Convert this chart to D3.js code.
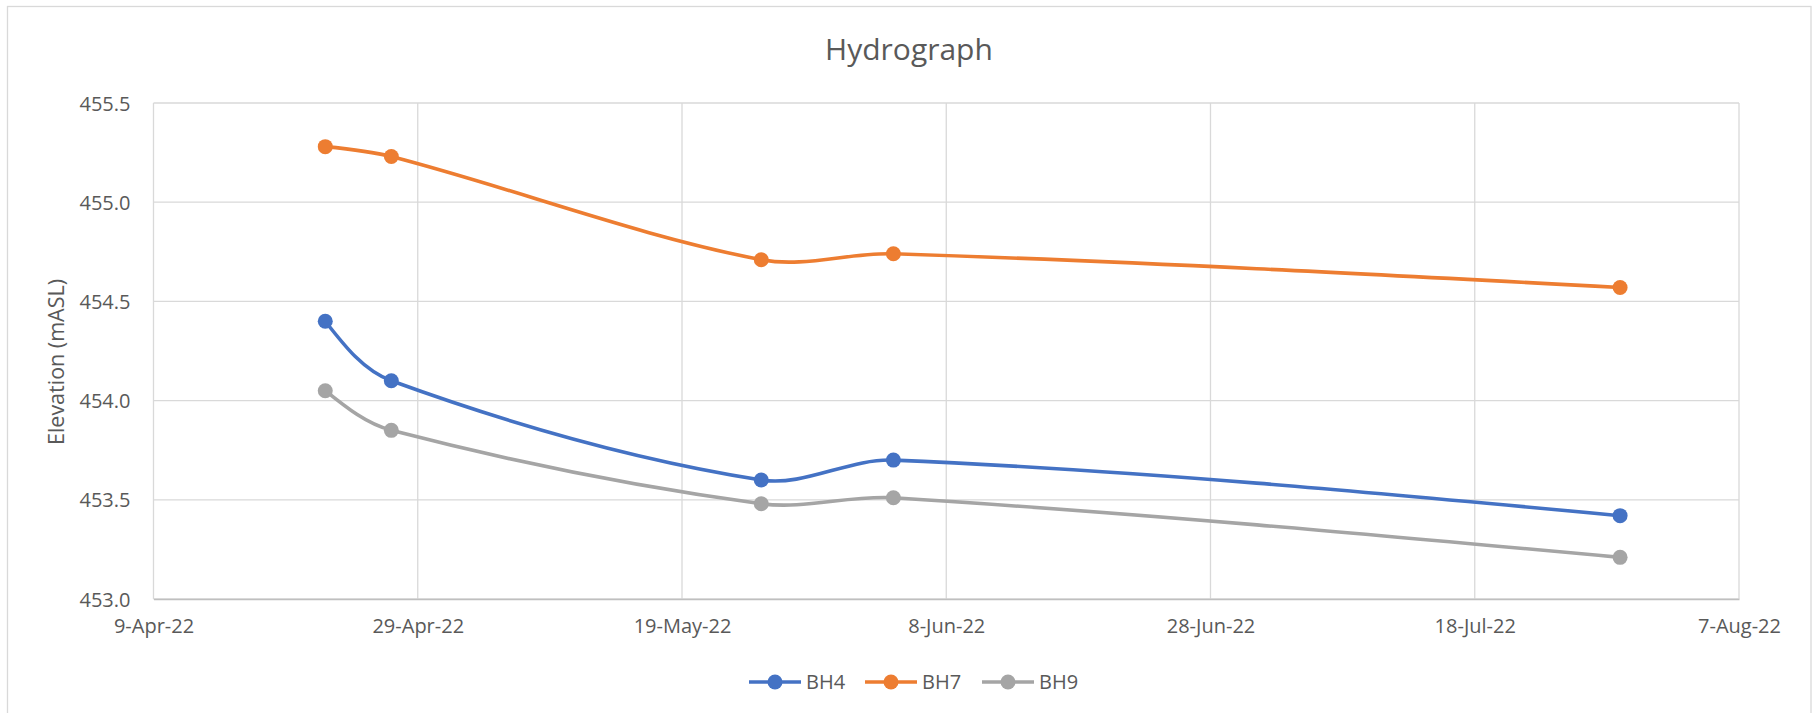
<!DOCTYPE html>
<html>
<head>
<meta charset="utf-8">
<script src="https://cdnjs.cloudflare.com/ajax/libs/d3/7.8.5/d3.min.js"></script>
<style>
  body { margin: 0; background: #fff; }
  text { font-family: "Open Sans", sans-serif; fill: #595959; }
</style>
</head>
<body>
<div id="chart"></div>
<script>
// readings
var dates = ["22-Apr-22", "27-Apr-22", "25-May-22", "4-Jun-22", "29-Jul-22"];
var bh4 = [454.40, 454.10, 453.60, 453.70, 453.42];
var bh7 = [455.28, 455.23, 454.71, 454.74, 454.57];
var bh9 = [454.05, 453.85, 453.48, 453.51, 453.21];
var xTickLabels = ["9-Apr-22", "29-Apr-22", "19-May-22", "8-Jun-22", "28-Jun-22", "18-Jul-22", "7-Aug-22"];
var yTicks = [453.0, 453.5, 454.0, 454.5, 455.0, 455.5];

var parse = d3.utcParse("%d-%b-%y");
var series = [
  { name: "BH4", color: "#4472C4", values: bh4 },
  { name: "BH7", color: "#ED7D31", values: bh7 },
  { name: "BH9", color: "#A5A5A5", values: bh9 }
];

var W = 1818, H = 713;
var margin = { top: 103, right: 79, bottom: 114, left: 153.5 };
var width = W - margin.left - margin.right;
var height = H - margin.top - margin.bottom;

// smoothed line a la spreadsheet: tangent along the neighbour chord,
// control length scaled by the segment it leads into
function smoothCurve(context) {
  var pts;
  return {
    areaStart: function () {},
    areaEnd: function () {},
    lineStart: function () { pts = []; },
    point: function (x, y) { pts.push([+x, +y]); },
    lineEnd: function () {
      var n = pts.length;
      if (!n) return;
      context.moveTo(pts[0][0], pts[0][1]);
      if (n === 1) return;
      if (n === 2) { context.lineTo(pts[1][0], pts[1][1]); return; }
      var dist = function (a, b) { return Math.hypot(b[0] - a[0], b[1] - a[1]); };
      var cin = [], cout = [];
      for (var i = 1; i < n - 1; i++) {
        var tx = pts[i + 1][0] - pts[i - 1][0], ty = pts[i + 1][1] - pts[i - 1][1];
        var d0 = dist(pts[i - 1], pts[i]), d1 = dist(pts[i], pts[i + 1]);
        var fo = d1 / (d0 + d1) / 3, fi = d0 / (d0 + d1) / 3;
        cout[i] = [pts[i][0] + tx * fo, pts[i][1] + ty * fo];
        cin[i] = [pts[i][0] - tx * fi, pts[i][1] - ty * fi];
      }
      cout[0] = [pts[0][0] + (cin[1][0] - pts[0][0]) / 2, pts[0][1] + (cin[1][1] - pts[0][1]) / 2];
      cin[n - 1] = [pts[n - 1][0] + (cout[n - 2][0] - pts[n - 1][0]) / 2, pts[n - 1][1] + (cout[n - 2][1] - pts[n - 1][1]) / 2];
      for (var j = 0; j < n - 1; j++) {
        context.bezierCurveTo(cout[j][0], cout[j][1], cin[j + 1][0], cin[j + 1][1], pts[j + 1][0], pts[j + 1][1]);
      }
    }
  };
}

var svg = d3.select("#chart").append("svg")
  .attr("width", W).attr("height", H);

// chart area border
svg.append("rect")
  .attr("x", 7.5).attr("y", 6.5)
  .attr("width", 1803.5).attr("height", 720)
  .attr("fill", "#fff").attr("stroke", "#d9d9d9").attr("stroke-width", 1.3);

svg.append("text")
  .attr("x", 909).attr("y", 60)
  .attr("text-anchor", "middle")
  .style("font-size", "30px")
  .text("Hydrograph");

var g = svg.append("g")
  .attr("transform", "translate(" + margin.left + "," + margin.top + ")");

var xTicks = xTickLabels.map(parse);
var x = d3.scaleUtc()
  .domain([xTicks[0], xTicks[xTicks.length - 1]])
  .range([0, width]);
var y = d3.scaleLinear()
  .domain([453.0, 455.5])
  .range([height, 0]);

// gridlines
g.append("g").selectAll("line")
  .data(yTicks).enter().append("line")
  .attr("x1", 0).attr("x2", width)
  .attr("y1", function (d) { return y(d); })
  .attr("y2", function (d) { return y(d); })
  .attr("stroke", "#d9d9d9").attr("stroke-width", 1.3);
g.append("g").selectAll("line")
  .data(xTicks).enter().append("line")
  .attr("x1", function (d) { return x(d); })
  .attr("x2", function (d) { return x(d); })
  .attr("y1", 0).attr("y2", height)
  .attr("stroke", "#d9d9d9").attr("stroke-width", 1.3);

// axes
var yAxis = g.append("g")
  .call(d3.axisLeft(y).tickValues(yTicks).tickFormat(d3.format(".1f")).tickSize(0).tickPadding(23));
yAxis.select(".domain").remove();
yAxis.selectAll("text").style("font-size", "20px").attr("dy", "0.35em").attr("fill", "#595959");

var xAxis = g.append("g")
  .attr("transform", "translate(0," + height + ")")
  .call(d3.axisBottom(x).tickValues(xTicks).tickFormat(function (d, i) { return xTickLabels[i]; }).tickSize(0).tickPadding(20));
xAxis.select(".domain").attr("stroke", "#bfbfbf").attr("stroke-width", 1.5);
xAxis.selectAll("text").style("font-size", "20px").attr("fill", "#595959");

// y axis title
svg.append("text")
  .attr("transform", "translate(64,362) rotate(-90)")
  .attr("text-anchor", "middle")
  .style("font-size", "21.5px")
  .text("Elevation (mASL)");

var line = d3.line()
  .x(function (d) { return x(d[0]); })
  .y(function (d) { return y(d[1]); })
  .curve(smoothCurve);

series.forEach(function (s) {
  var pts = s.values.map(function (v, i) { return [parse(dates[i]), v]; });
  g.append("path")
    .datum(pts)
    .attr("d", line)
    .attr("fill", "none")
    .attr("stroke", s.color)
    .attr("stroke-width", 3.6)
    .attr("stroke-linecap", "round");
  g.append("g").selectAll("circle")
    .data(pts).enter().append("circle")
    .attr("cx", function (d) { return x(d[0]); })
    .attr("cy", function (d) { return y(d[1]); })
    .attr("r", 7.5)
    .attr("fill", s.color);
});

// legend
var legendX = [749, 865, 982];
var legend = svg.append("g").attr("transform", "translate(0,682)");
series.forEach(function (s, i) {
  var lg = legend.append("g").attr("transform", "translate(" + legendX[i] + ",0)");
  lg.append("line").attr("x1", 0).attr("x2", 52).attr("y1", 0).attr("y2", 0)
    .attr("stroke", s.color).attr("stroke-width", 3.6);
  lg.append("circle").attr("cx", 26).attr("cy", 0).attr("r", 7.5).attr("fill", s.color);
  lg.append("text").attr("x", 57).attr("y", 0).attr("dy", "0.35em")
    .style("font-size", "20px").text(s.name);
});
</script>
</body>
</html>
